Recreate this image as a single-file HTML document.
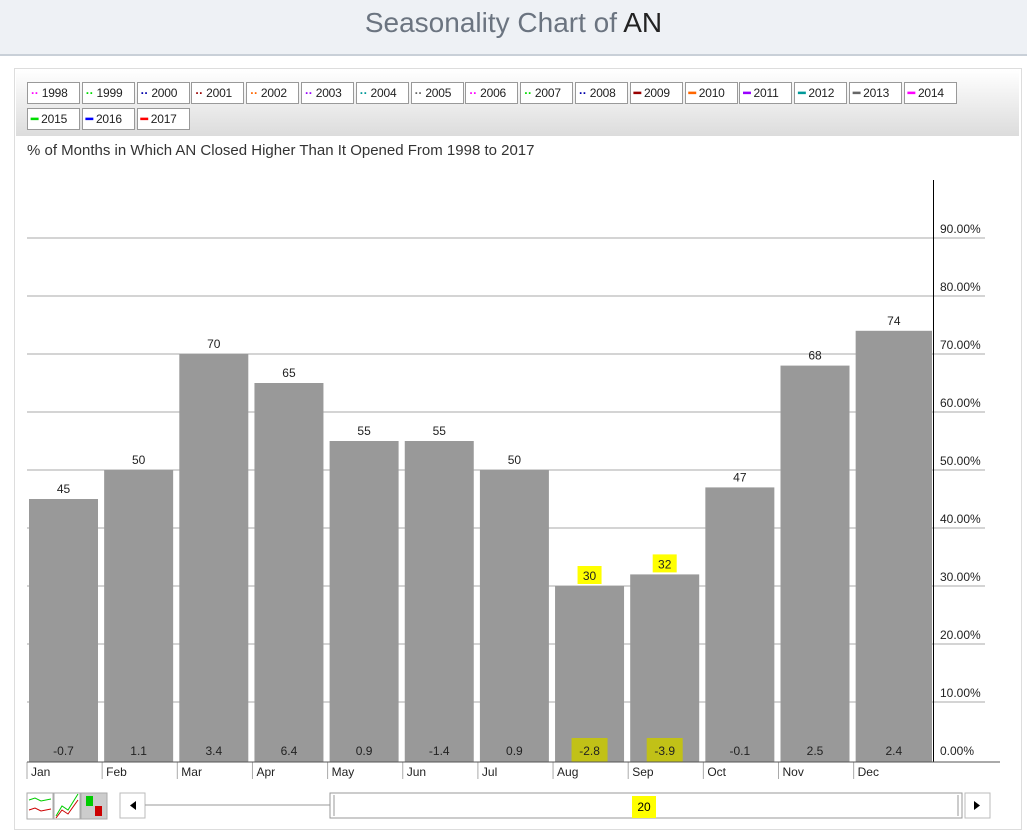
<!DOCTYPE html>
<html><head><meta charset="utf-8">
<style>
body{margin:0;width:1027px;height:840px;background:#fff;font-family:"Liberation Sans",sans-serif;overflow:hidden;position:relative}
.hdr{position:absolute;left:0;top:0;width:1027px;height:54px;background:#eef1f5;border-bottom:2px solid #c9d0d8;text-align:center;font-size:28px;line-height:46px;color:#6b7480}
.hdr b{font-weight:normal;color:#222}
.frame{position:absolute;left:14px;top:68px;width:1006px;height:760px;border:1px solid #ddd;background:#fff}
.leg{position:absolute;left:16px;top:70px;width:1003px;height:66px;background:linear-gradient(#fff,#dcdcdc)}
.li{position:absolute;border:1px solid #999;background:#fff;font-size:12px;line-height:20px;padding:0 3px;box-sizing:border-box;height:22px;color:#222;letter-spacing:-0.2px}
.sub{position:absolute;left:27px;top:142px;font-size:15px;color:#333}
svg{position:absolute;left:0;top:0}
</style></head><body>
<div class="hdr">Seasonality Chart of <b>AN</b></div>
<div class="frame"></div>
<div class="leg"></div>
<div id="legitems"></div>
<div class="sub">% of Months in Which AN Closed Higher Than It Opened From 1998 to 2017</div>
<svg id="chart" width="1027" height="840"></svg>
<script>
const years=["1998","1999","2000","2001","2002","2003","2004","2005","2006","2007","2008","2009","2010","2011","2012","2013","2014","2015","2016","2017"];
const yearColors=["#f0f","#0d0","#00a","#900","#f60","#90f","#099","#666","#f0f","#0d0","#00a","#900","#f60","#90f","#099","#666","#f0f","#0d0","#00f","#f00"];
const months=["Jan","Feb","Mar","Apr","May","Jun","Jul","Aug","Sep","Oct","Nov","Dec"];
const pctUp=[45,50,70,65,55,55,50,30,32,47,68,74];
const avgRet=["-0.7","1.1","3.4","6.4","0.9","-1.4","0.9","-2.8","-3.9","-0.1","2.5","2.4"];
const yTicks=[0,10,20,30,40,50,60,70,80,90];
const highlighted=["Aug","Sep"];

const L=document.getElementById('legitems');
years.forEach((y,i)=>{
  const d=document.createElement('div');
  d.className='li';
  
  
  const row=i<17?0:1, col=i<17?i:i-17;
  d.style.left=(27+col*54.8)+'px';d.style.top=(82+row*26)+'px';d.style.width='53px';
  const dash=i<11?'··':'━';
  d.innerHTML='<span style="color:'+yearColors[i]+';font-weight:bold">'+dash+'</span> '+y;
  L.appendChild(d);
});

const S=document.getElementById('chart');const NS='http://www.w3.org/2000/svg';
function el(t,a,txt){const e=document.createElementNS(NS,t);for(const k in a)e.setAttribute(k,a[k]);if(txt!==undefined)e.textContent=txt;S.appendChild(e);return e;}
const x0=27,bw=75.15,axisX=932;
const yS=v=>760-v*5.8;
yTicks.forEach(t=>{
  if(t>0){const g=el('line',{x1:27,x2:985,y1:yS(t),y2:yS(t),stroke:'#aaa','stroke-width':1});
  }
  const tx=el('text',{x:940,y:yS(t)-5,'font-size':12,fill:'#222'},t.toFixed(2)+'%');
  
});
months.forEach((m,i)=>{
  const bx=x0+i*bw+2, w=(i===months.length-1)?axisX-bx:69, top=yS(pctUp[i]);
  const r=el('rect',{x:bx,y:top,width:w,height:762-top,fill:'#999'});
  
  const hl=highlighted.includes(m);
  if(hl){const h=el('rect',{x:bx+w/2-12,y:top-20,width:24,height:18,fill:'#ff0'});
    
    const h2=el('rect',{x:bx+w/2-18,y:738,width:36,height:24,fill:'#c8c800',opacity:0.85});
    }
  const vl=el('text',{x:bx+w/2,y:top-6,'font-size':12,'text-anchor':'middle',fill:'#222'},String(pctUp[i]));
  
  const rl=el('text',{x:bx+w/2,y:755,'font-size':12,'text-anchor':'middle',fill:'#222'},avgRet[i]);
  
  const tk=el('line',{x1:x0+i*bw,x2:x0+i*bw,y1:762,y2:779,stroke:'#aaa'});
  
  const ml=el('text',{x:x0+i*bw+4,y:776,'font-size':12,fill:'#222'},m);
  
});
const ax=el('line',{x1:933.5,x2:933.5,y1:180,y2:762,stroke:'#000'});

const bl=el('line',{x1:27,x2:1000,y1:762,y2:762,stroke:'#555'});

</script>
<svg width="1027" height="840" style="pointer-events:none">
<g>
<rect x="27" y="793" width="26" height="26" fill="#fff" stroke="#aaa"/>
<polyline points="29,800 35,798 41,801 51,799" stroke="#0c0" fill="none"/>
<polyline points="29,810 35,808 41,811 51,809" stroke="#c00" fill="none"/>
<rect x="54" y="793" width="26" height="26" fill="#fff" stroke="#aaa"/>
<polyline points="56,816 62,806 68,810 78,794" stroke="#0c0" fill="none"/>
<polyline points="56,818 62,810 68,814 78,800" stroke="#c00" fill="none"/>
<rect x="81" y="793" width="26" height="26" fill="#ccc" stroke="#aaa"/>
<rect x="86" y="796" width="7" height="10" fill="#0c0"/><rect x="95" y="806" width="7" height="10" fill="#c00"/>
</g>
<g>
<rect x="120" y="793" width="25" height="25" fill="#fff" stroke="#bbb"/>
<polygon points="136,801 130,805.5 136,810" fill="#000"/>
<line x1="145" y1="805" x2="330" y2="805" stroke="#999"/>
<rect x="330" y="793" width="632" height="25" fill="#fff" stroke="#999"/>
<line x1="334" y1="795" x2="334" y2="816" stroke="#999"/><line x1="958" y1="795" x2="958" y2="816" stroke="#999"/>
<rect x="632" y="796" width="24" height="22" fill="#ff0"/>
<text x="644" y="811" font-size="12" text-anchor="middle" font-family="Liberation Sans">20</text>
<rect x="965" y="793" width="25" height="25" fill="#fff" stroke="#bbb"/>
<polygon points="974,801 980,805.5 974,810" fill="#000"/>
</g>
</svg>
</body></html>
